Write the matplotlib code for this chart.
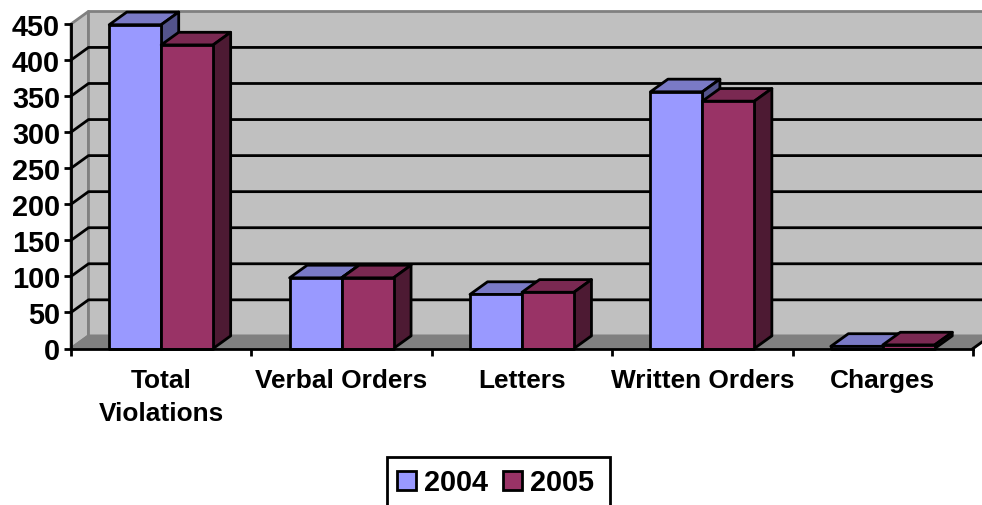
import matplotlib
# Use the non-interactive backend
matplotlib.use('Agg')
import matplotlib.pyplot as plt
from matplotlib.patches import Polygon, Rectangle

categories = ["Total\nViolations", "Verbal Orders", "Letters", "Written Orders", "Charges"]
values_2004 = [449, 98, 75, 356, 3]
values_2005 = [421, 98, 78, 343, 5]
y_ticks = [0, 50, 100, 150, 200, 250, 300, 350, 400, 450]

# 3D look: depth offset in data units
DX = 0.097
DY = 17.5
BAR_W = 0.288
LW = 2.0

plt.rcParams['font.family'] = ['Liberation Sans', 'DejaVu Sans']
plt.rcParams['font.weight'] = 'bold'

fig = plt.figure(figsize=(9.82, 5.06), dpi=100)
ax = fig.add_axes([71 / 982, (506 - 349.5) / 506, 902 / 982, 324.5 / 506])
ax.set_xlim(-0.5, 4.5)
ax.set_ylim(0, 450)
ax.patch.set_visible(False)


def poly(points, face, edge="black", z=2):
    ax.add_patch(Polygon(points, closed=True, facecolor=face, edgecolor=edge,
                         linewidth=LW, zorder=z, clip_on=False, joinstyle="round"))


x0, x1 = -0.5, 4.5
top = y_ticks[-1]

# walls and floor
poly([(x0, 0), (x0, top), (x0 + DX, top + DY), (x0 + DX, DY)], "#C0C0C0", "#808080", 1)
poly([(x0 + DX, DY), (x0 + DX, top + DY), (x1 + DX, top + DY), (x1 + DX, DY)], "#C0C0C0", "#808080", 1)
poly([(x0, 0), (x1, 0), (x1 + DX, DY), (x0 + DX, DY)], "#808080", "#808080", 1)

# gridlines on the back wall and the side wall
for v in y_ticks[1:-1]:
    ax.plot([x0, x0 + DX, x1 + DX], [v, v + DY, v + DY], color="black", lw=LW,
            zorder=1.5, clip_on=False)
ax.plot([x1, x1 + DX], [0, DY], color="black", lw=LW, zorder=1.5, clip_on=False)


def bar3d(left, value, front, roof, side):
    right = left + BAR_W
    poly([(left, value), (left + DX, value + DY), (right + DX, value + DY), (right, value)], roof)
    poly([(right, 0), (right + DX, DY), (right + DX, value + DY), (right, value)], side)
    poly([(left, 0), (right, 0), (right, value), (left, value)], front)


for i in range(len(categories)):
    bar3d(i - BAR_W, values_2004[i], "#9999FF", "#7A7AC6", "#54548C")
    bar3d(i, values_2005[i], "#993366", "#7A2952", "#4D1A33")

ax.set_yticks(y_ticks)
ax.set_xticks([i - 0.5 for i in range(len(categories) + 1)])
ax.set_xticklabels([""] * (len(categories) + 1))
ax.tick_params(axis="y", length=5, width=LW, pad=3, labelsize=20.8)
ax.tick_params(axis="x", length=5, width=LW)
for name in ["top", "right"]:
    ax.spines[name].set_visible(False)
for name in ["left", "bottom"]:
    ax.spines[name].set_linewidth(LW)
    ax.spines[name].set_zorder(5)

# category labels sit centred under each group
for i, label in enumerate(categories):
    ax.text(i, -27, label, ha="center", va="top", fontsize=18.9, linespacing=1.45)

# legend box runs off the bottom of the image
px = 1 / 982
py = 1 / 506
fig.add_artist(Rectangle((387.5 * px, 1 - 458 * py), 222.5 * px, -60 * py, transform=fig.transFigure,
                         facecolor="white", edgecolor="black", linewidth=LW))
for sx, tx, color, label in [(397, 424, "#9999FF", "2004"), (503, 530, "#993366", "2005")]:
    fig.add_artist(Rectangle((sx * px, 1 - 491 * py), 19 * px, 19 * py, transform=fig.transFigure,
                             facecolor=color, edgecolor="black", linewidth=LW))
    fig.text(tx * px, 1 - 483 * py, label, ha="left", va="center", fontsize=20.8)

fig.savefig("out.png", dpi=100)
